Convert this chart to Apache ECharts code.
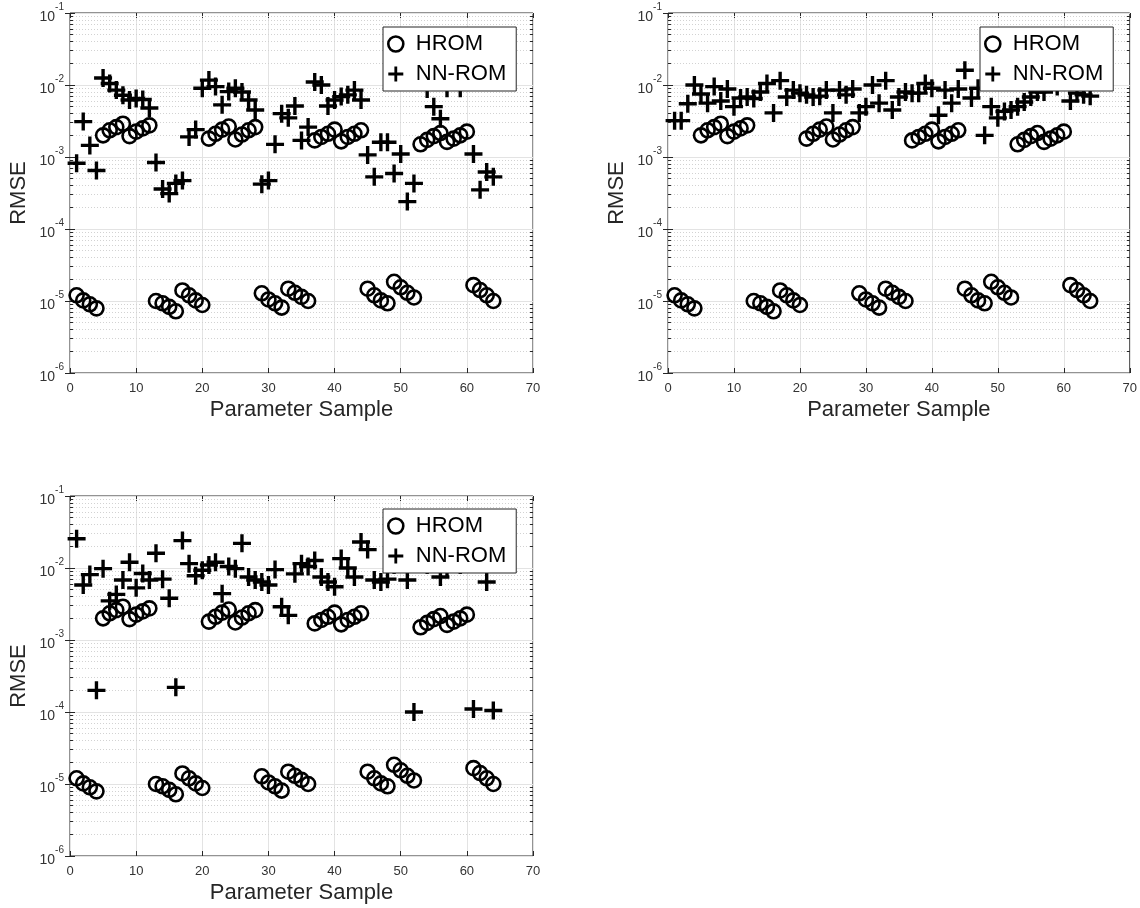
<!DOCTYPE html>
<html>
<head>
<meta charset="utf-8">
<script src="https://cdn.jsdelivr.net/npm/echarts@6/dist/echarts.min.js"></script>
<style>
  html, body { margin: 0; padding: 0; background: #fff; }
  #chart { width: 1140px; height: 908px; }
</style>
</head>
<body>
<div id="chart"></div>
<script>
// parameter sample index
const samples = [
  1, 2, 3, 4, 5, 6, 7, 8, 9, 10, 11, 12, 13, 14, 15, 16,
  17, 18, 19, 20, 21, 22, 23, 24, 25, 26, 27, 28, 29, 30, 31, 32,
  33, 34, 35, 36, 37, 38, 39, 40, 41, 42, 43, 44, 45, 46, 47, 48,
  49, 50, 51, 52, 53, 54, 55, 56, 57, 58, 59, 60, 61, 62, 63, 64
];

// HROM error, same in every panel
const hrom = [
  1.2e-5, 1.02e-5, 0.9e-5, 0.79e-5,
  2.0e-3, 2.35e-3, 2.6e-3, 2.9e-3, 1.95e-3, 2.25e-3, 2.5e-3, 2.75e-3,
  1.0e-5, 0.93e-5, 0.83e-5, 0.72e-5, 1.4e-5, 1.2e-5, 1.02e-5, 0.88e-5,
  1.8e-3, 2.1e-3, 2.4e-3, 2.65e-3, 1.75e-3, 2.05e-3, 2.35e-3, 2.6e-3,
  1.28e-5, 1.05e-5, 0.93e-5, 0.81e-5, 1.48e-5, 1.3e-5, 1.14e-5, 1.0e-5,
  1.7e-3, 1.9e-3, 2.1e-3, 2.4e-3, 1.65e-3, 1.9e-3, 2.1e-3, 2.35e-3,
  1.48e-5, 1.2e-5, 1.02e-5, 0.93e-5, 1.85e-5, 1.55e-5, 1.3e-5, 1.12e-5,
  1.5e-3, 1.73e-3, 1.95e-3, 2.15e-3, 1.62e-3, 1.8e-3, 2.0e-3, 2.25e-3,
  1.66e-5, 1.42e-5, 1.2e-5, 1.0e-5
];

// NN-ROM error, top-left panel
const nnrom1 = [
  8.2e-4, 3.1e-3, 1.45e-3, 6.5e-4, 1.25e-2, 1.05e-2, 8.5e-3, 7.2e-3,
  6.2e-3, 6.5e-3, 6.3e-3, 4.8e-3, 8.4e-4, 3.6e-4, 3.1e-4, 4.3e-4,
  4.7e-4, 1.9e-3, 2.4e-3, 9.0e-3, 1.17e-2, 9.5e-3, 5.3e-3, 8.1e-3,
  9.0e-3, 8.0e-3, 6.2e-3, 4.5e-3, 4.2e-4, 4.7e-4, 1.5e-3, 4.0e-3,
  3.5e-3, 5.1e-3, 1.7e-3, 2.6e-3, 1.1e-2, 1.0e-2, 5.1e-3, 6.2e-3,
  6.9e-3, 7.3e-3, 8.5e-3, 6.2e-3, 1.07e-3, 5.3e-4, 1.6e-3, 1.6e-3,
  5.9e-4, 1.1e-3, 2.4e-4, 4.3e-4, 1.1e-2, 8.8e-3, 5.0e-3, 3.4e-3,
  9.0e-3, 1.2e-2, 9.0e-3, 1.3e-2, 1.1e-3, 3.5e-4, 6.2e-4, 5.3e-4
];

// NN-ROM error, top-right panel
const nnrom2 = [
  3.2e-3, 3.2e-3, 5.5e-3, 1.0e-2, 7.5e-3, 5.6e-3, 9.5e-3, 6.0e-3,
  8.8e-3, 5.0e-3, 6.6e-3, 6.8e-3, 6.5e-3, 8.0e-3, 1.05e-2, 4.1e-3,
  1.15e-2, 6.8e-3, 8.5e-3, 7.7e-3, 7.3e-3, 6.8e-3, 7.0e-3, 8.5e-3,
  4.1e-3, 8.5e-3, 7.3e-3, 8.8e-3, 4.1e-3, 5.0e-3, 1.0e-2, 5.6e-3,
  1.15e-2, 4.5e-3, 6.8e-3, 8.0e-3, 7.7e-3, 7.7e-3, 1.05e-2, 9.0e-3,
  3.8e-3, 8.5e-3, 5.6e-3, 8.8e-3, 1.6e-2, 6.6e-3, 9.0e-3, 2.0e-3,
  5.0e-3, 3.5e-3, 4.3e-3, 4.5e-3, 5.0e-3, 5.8e-3, 6.8e-3, 8.0e-3,
  8.0e-3, 1.1e-2, 9.5e-3, 1.2e-2, 6.0e-3, 7.7e-3, 7.3e-3, 7.0e-3
];

// NN-ROM error, bottom panel
const nnrom3 = [
  2.55e-2, 5.8e-3, 8.1e-3, 2.0e-4, 9.8e-3, 3.5e-3, 4.3e-3, 6.8e-3,
  1.2e-2, 5.3e-3, 8.4e-3, 6.8e-3, 1.6e-2, 7.0e-3, 3.8e-3, 2.2e-4,
  2.4e-2, 1.15e-2, 7.8e-3, 9.3e-3, 1.1e-2, 1.2e-2, 4.4e-3, 1.05e-2,
  9.8e-3, 2.2e-2, 7.5e-3, 6.8e-3, 6.4e-3, 5.8e-3, 9.5e-3, 2.9e-3,
  2.2e-3, 8.3e-3, 1.15e-2, 1.05e-2, 1.27e-2, 7.5e-3, 6.4e-3, 5.5e-3,
  1.35e-2, 1.0e-2, 7.5e-3, 2.3e-2, 1.8e-2, 6.8e-3, 6.4e-3, 7.0e-3,
  1.1e-2, 1.2e-2, 6.8e-3, 1.0e-4, 1.3e-2, 1.1e-2, 1.2e-2, 7.5e-3,
  1.0e-2, 1.4e-2, 1.1e-2, 1.2e-2, 1.1e-4, 1.3e-2, 6.4e-3, 1.05e-4
];

const panels = [nnrom1, nnrom2, nnrom3];
const grids = [
  { left: 70, top: 13, width: 463, height: 360 },
  { left: 668, top: 13, width: 462, height: 360 },
  { left: 70, top: 496, width: 463, height: 360 }
];
const legendPos = [
  { left: 383, top: 27 },
  { left: 980, top: 27 },
  { left: 383, top: 509 }
];

// minor grid / ticks of the log axis: 2..9 in each decade
const decades = [1e-6, 1e-5, 1e-4, 1e-3, 1e-2];
const minorSteps = [2, 3, 4, 5, 6, 7, 8, 9];
const minorVals = [];
decades.forEach(d => minorSteps.forEach(m => minorVals.push(d * m)));

const plusPath = 'path://M6.5,0H9.5V6.5H16V9.5H9.5V16H6.5V9.5H0V6.5H6.5Z';
const axisColor = '#262626';
const fontFamily = 'Liberation Sans, Arial, Helvetica, sans-serif';

const chart = echarts.init(document.getElementById('chart'));

const xAxis = [];
const yAxis = [];
const series = [];
const legend = [];

grids.forEach((g, i) => {
  xAxis.push({
    type: 'value', gridIndex: i, min: 0, max: 70, interval: 10,
    name: 'Parameter Sample', nameLocation: 'middle', nameGap: 26,
    nameTextStyle: { fontSize: 22, color: axisColor, fontFamily },
    axisLine: { show: false },
    axisTick: { inside: true, length: 5, lineStyle: { color: axisColor } },
    axisLabel: { fontSize: 13, color: '#333', margin: 9, fontFamily },
    splitLine: { show: true, lineStyle: { color: '#e3e3e3', width: 1 } }
  });
  yAxis.push({
    type: 'log', gridIndex: i, logBase: 10, min: 1e-6, max: 1e-1,
    name: 'RMSE', nameLocation: 'middle', nameGap: 40, nameRotate: 90,
    nameTextStyle: { fontSize: 22, color: axisColor, fontFamily },
    axisLine: { show: false },
    axisTick: { inside: true, length: 5, lineStyle: { color: axisColor } },
    axisLabel: {
      margin: 6,
      formatter: v => '{b|10}{s|' + Math.round(Math.log10(v)) + '}',
      rich: {
        b: { fontSize: 14, color: '#333', fontFamily, lineHeight: 22, verticalAlign: 'bottom' },
        s: { fontSize: 10, color: '#333', fontFamily, lineHeight: 22, verticalAlign: 'top' }
      }
    },
    splitLine: { show: true, lineStyle: { color: '#e3e3e3', width: 1 } }
  });
});

// top and right copies of the axes for the boxed look
grids.forEach((g, i) => {
  xAxis.push({
    type: 'value', gridIndex: i, min: 0, max: 70, interval: 10, position: 'top',
    axisLine: { show: false }, axisLabel: { show: false }, splitLine: { show: false },
    axisTick: { inside: true, length: 5, lineStyle: { color: axisColor } }
  });
  yAxis.push({
    type: 'log', gridIndex: i, logBase: 10, min: 1e-6, max: 1e-1, position: 'right',
    axisLine: { show: false }, axisLabel: { show: false }, splitLine: { show: false },
    axisTick: { inside: true, length: 5, lineStyle: { color: axisColor } }
  });
});

panels.forEach((nn, i) => {
  series.push({
    type: 'lines', coordinateSystem: 'cartesian2d', xAxisIndex: i, yAxisIndex: i,
    silent: true, z: 1,
    lineStyle: { color: '#d2d2d2', width: 1, type: [1, 2], opacity: 1 },
    data: minorVals.map(v => ({ coords: [[0, v], [70, v]] }))
  });
  series.push({
    type: 'lines', coordinateSystem: 'cartesian2d', xAxisIndex: i, yAxisIndex: i,
    silent: true, z: 3,
    lineStyle: { color: axisColor, width: 1, opacity: 1 },
    data: minorVals.flatMap(v => [
      { coords: [[0, v], [0.45, v]] },
      { coords: [[69.55, v], [70, v]] }
    ])
  });
  series.push({
    name: 'HROM', type: 'scatter', xAxisIndex: i, yAxisIndex: i,
    symbol: 'circle', symbolSize: 14,
    itemStyle: { color: 'rgba(0,0,0,0)', borderColor: '#000', borderWidth: 2.6, opacity: 1 },
    data: samples.map((s, k) => [s, hrom[k]])
  });
  series.push({
    name: 'NN-ROM', type: 'scatter', xAxisIndex: i, yAxisIndex: i,
    symbol: plusPath, symbolSize: 18,
    itemStyle: { color: '#000', opacity: 1 },
    data: samples.map((s, k) => [s, nn[k]])
  });
  legend.push({
    left: legendPos[i].left, top: legendPos[i].top,
    orient: 'vertical', backgroundColor: '#fff',
    borderColor: axisColor, borderWidth: 1, borderRadius: 0,
    padding: [6, 10, 6, 4], itemGap: 8, itemWidth: 30, itemHeight: 15,
    textStyle: { fontSize: 22, color: '#000', fontFamily },
    selectedMode: false, z: 10,
    data: [
      { name: 'HROM', icon: 'circle', itemStyle: { color: 'rgba(0,0,0,0)', borderColor: '#000', borderWidth: 2.6 } },
      { name: 'NN-ROM', icon: plusPath, itemStyle: { color: '#000' } }
    ]
  });
});

chart.setOption({
  animation: false,
  backgroundColor: '#fff',
  grid: grids.map(g => Object.assign({ show: true, borderColor: axisColor, borderWidth: 1, backgroundColor: '#fff' }, g)),
  xAxis, yAxis, series, legend
});
</script>
</body>
</html>
